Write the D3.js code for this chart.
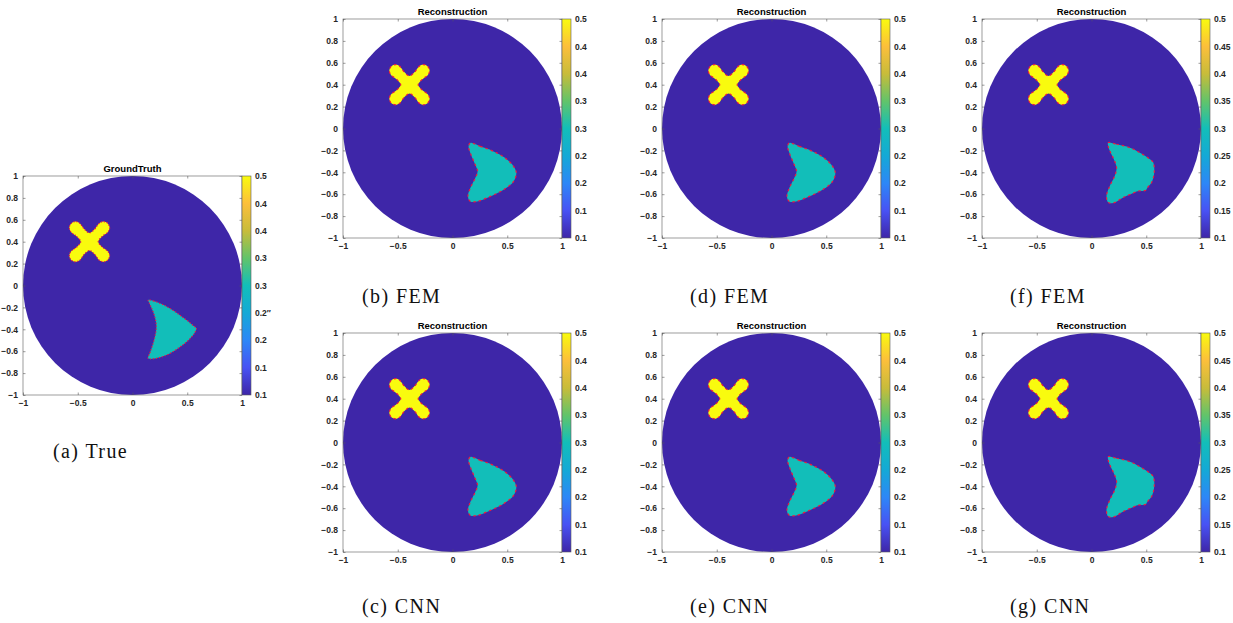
<!DOCTYPE html>
<html>
<head>
<meta charset="utf-8">
<script src="https://cdn.jsdelivr.net/npm/d3@7"></script>
<style>
  body { margin: 0; background: #fff; }
  .tick-label { font-family: "Liberation Sans", Arial, sans-serif; font-size: 8.5px; font-weight: bold; fill: #262626; }
  .ax-title { font-family: "Liberation Sans", Arial, sans-serif; font-size: 9.5px; font-weight: bold; fill: #000; }
  .caption { font-family: "Liberation Serif", "DejaVu Serif", serif; font-size: 20px; letter-spacing: 1.4px; fill: #111; }
</style>
</head>
<body>
<div id="viz"></div>
<script>
// axis ticks
var xTicks = [-1, -0.5, 0, 0.5, 1];
var yTicks = [-1, -0.8, -0.6, -0.4, -0.2, 0, 0.2, 0.4, 0.6, 0.8, 1];

// colorbar ticks (value range 0.1 .. 0.5)
var cbDomain = [0.1, 0.5];
var cbTicks = [0.1, 0.15, 0.2, 0.25, 0.3, 0.35, 0.4, 0.45, 0.5];
var cbLabelsGT = ["0.1", "0.1", "0.2", "0.2\u2033", "0.3", "0.3", "0.4", "0.4", "0.5"];
var cbLabelsShort = ["0.1", "0.1", "0.2", "0.2", "0.3", "0.3", "0.4", "0.4", "0.5"];
var cbLabelsFine = ["0.1", "0.15", "0.2", "0.25", "0.3", "0.35", "0.4", "0.45", "0.5"];

// parula colormap stops
var parula = ["#3e26a8", "#4852f4", "#2d87f7", "#14a9d6", "#12beb9", "#62c46a", "#c8bc3a", "#fcbf3b", "#f9fb0e"];

// inclusion values
var crossValue = 0.5;
var crescentValue = 0.3;
var backgroundValue = 0.1;

// X-shaped inclusion boundary (x, y)
var crossShape = [
  [-0.393, 0.480],
  [-0.343, 0.518], [-0.306, 0.567], [-0.266, 0.584], [-0.226, 0.567], [-0.209, 0.527], [-0.226, 0.487], [-0.275, 0.450],
  [-0.313, 0.400],
  [-0.275, 0.350], [-0.226, 0.313], [-0.209, 0.273], [-0.226, 0.233], [-0.266, 0.216], [-0.306, 0.233], [-0.343, 0.282],
  [-0.393, 0.320],
  [-0.443, 0.282], [-0.480, 0.233], [-0.520, 0.216], [-0.560, 0.233], [-0.577, 0.273], [-0.560, 0.313], [-0.511, 0.350],
  [-0.473, 0.400],
  [-0.511, 0.450], [-0.560, 0.487], [-0.577, 0.527], [-0.560, 0.567], [-0.520, 0.584], [-0.480, 0.567], [-0.443, 0.518]
];

// crescent inclusion, ground truth
var crescentTrue = [
  [0.142, -0.132], [0.193, -0.142], [0.285, -0.178], [0.376, -0.230], [0.452, -0.285],
  [0.513, -0.330], [0.559, -0.370], [0.583, -0.391], [0.565, -0.437], [0.513, -0.498],
  [0.437, -0.559], [0.345, -0.619], [0.254, -0.656], [0.163, -0.671], [0.142, -0.665],
  [0.163, -0.604], [0.193, -0.513], [0.216, -0.406], [0.216, -0.345], [0.199, -0.269],
  [0.169, -0.193], [0.148, -0.148]
];

// crescent inclusion, reconstructions (b)-(e)
var crescentRec = [
  [0.163, -0.132], [0.254, -0.163], [0.375, -0.209], [0.482, -0.270], [0.558, -0.346],
  [0.583, -0.406], [0.558, -0.483], [0.467, -0.559], [0.345, -0.620], [0.224, -0.666],
  [0.163, -0.666], [0.141, -0.620], [0.163, -0.543], [0.208, -0.452], [0.229, -0.392],
  [0.208, -0.331], [0.169, -0.239], [0.147, -0.163]
];

// crescent inclusion, reconstructions (f)-(g)
var crescentRec2 = [
  [0.152, -0.129], [0.229, -0.144], [0.351, -0.175], [0.442, -0.221], [0.534, -0.281],
  [0.564, -0.311], [0.573, -0.402], [0.549, -0.493], [0.515, -0.535], [0.495, -0.565],
  [0.470, -0.570], [0.420, -0.572], [0.381, -0.590], [0.290, -0.630], [0.198, -0.681],
  [0.152, -0.675], [0.137, -0.615], [0.168, -0.523], [0.213, -0.432], [0.229, -0.357],
  [0.204, -0.281], [0.168, -0.205], [0.152, -0.159]
];

var panels = [
  {title: "GroundTruth", left: 23, top: 176, crescent: crescentTrue, labels: cbLabelsGT, caption: "(a) True", capX: 53, capY: 458, dash: "1.2,1.8"},
  {title: "Reconstruction", left: 343, top: 19, crescent: crescentRec, labels: cbLabelsShort, caption: "(b) FEM", capX: 362, capY: 303, dash: "2.5,3"},
  {title: "Reconstruction", left: 662, top: 19, crescent: crescentRec, labels: cbLabelsShort, caption: "(d) FEM", capX: 690, capY: 303, dash: "2.5,3"},
  {title: "Reconstruction", left: 982, top: 19, crescent: crescentRec2, labels: cbLabelsFine, caption: "(f) FEM", capX: 1010, capY: 303, dash: "2.5,3"},
  {title: "Reconstruction", left: 343, top: 333, crescent: crescentRec, labels: cbLabelsShort, caption: "(c) CNN", capX: 362, capY: 613, dash: "2.5,3"},
  {title: "Reconstruction", left: 662, top: 333, crescent: crescentRec, labels: cbLabelsShort, caption: "(e) CNN", capX: 690, capY: 613, dash: "2.5,3"},
  {title: "Reconstruction", left: 982, top: 333, crescent: crescentRec2, labels: cbLabelsFine, caption: "(g) CNN", capX: 1010, capY: 613, dash: "2.5,3"}
];

var width = 1233, height = 623;
var size = 219, cbWidth = 9, tickLen = 2.5;

var svg = d3.select("#viz").append("svg")
    .attr("width", width)
    .attr("height", height);

var grad = svg.append("defs").append("linearGradient")
    .attr("id", "parula")
    .attr("x1", 0).attr("y1", 1).attr("x2", 0).attr("y2", 0);
grad.selectAll("stop")
  .data(parula)
  .enter()
  .append("stop")
  .attr("offset", function(d, i) { return i / (parula.length - 1); })
  .attr("stop-color", function(d) { return d; });

var colorScale = d3.scaleLinear()
    .domain(parula.map(function(d, i) { return cbDomain[0] + (cbDomain[1] - cbDomain[0]) * i / (parula.length - 1); }))
    .range(parula);

panels.forEach(function(p) {
  var g = svg.append("g").attr("transform", "translate(" + p.left + "," + p.top + ")");

  var x = d3.scaleLinear().domain([-1, 1]).range([0, size]);
  var y = d3.scaleLinear().domain([-1, 1]).range([size, 0]);

  var line = d3.line()
    .x(function(d) { return x(d[0]); })
    .y(function(d) { return y(d[1]); })
    .curve(d3.curveCatmullRomClosed.alpha(0.5));

  // disk background
  g.append("circle")
    .attr("cx", x(0))
    .attr("cy", y(0))
    .attr("r", x(1) - x(0))
    .style("fill", colorScale(backgroundValue));

  // inclusions
  [[crossShape, crossValue], [p.crescent, crescentValue]].forEach(function(s) {
    g.append("path")
      .attr("d", line(s[0]))
      .style("fill", colorScale(s[1]));
    g.append("path")
      .attr("d", line(s[0]))
      .style("fill", "none")
      .style("stroke", "#ee1c3c")
      .style("stroke-width", 1.2)
      .style("stroke-dasharray", p.dash);
  });

  // axes box
  g.append("rect")
    .attr("width", size).attr("height", size)
    .style("fill", "none")
    .style("stroke", "#5a5a5a")
    .style("stroke-width", 0.6);

  var xAxisB = d3.axisBottom(x).tickValues(xTicks).tickSizeInner(-tickLen).tickSizeOuter(0).tickFormat(d3.format("~g")).tickPadding(5);
  var xAxisT = d3.axisTop(x).tickValues(xTicks).tickSizeInner(-tickLen).tickSizeOuter(0).tickFormat("");
  var yAxisL = d3.axisLeft(y).tickValues(yTicks).tickSizeInner(-tickLen).tickSizeOuter(0).tickFormat(d3.format("~g")).tickPadding(5);
  var yAxisR = d3.axisRight(y).tickValues(yTicks).tickSizeInner(-tickLen).tickSizeOuter(0).tickFormat("");

  [[xAxisB, "translate(0," + size + ")"], [xAxisT, "translate(0,0)"], [yAxisL, "translate(0,0)"], [yAxisR, "translate(" + size + ",0)"]].forEach(function(a) {
    var ax = g.append("g").attr("transform", a[1]).call(a[0]);
    ax.select(".domain").remove();
    ax.selectAll("line").style("stroke", "#5a5a5a").style("stroke-width", 0.6);
    ax.selectAll("text").attr("class", "tick-label").attr("fill", null);
  });

  // title
  g.append("text")
    .attr("class", "ax-title")
    .attr("x", size / 2)
    .attr("y", -4)
    .attr("text-anchor", "middle")
    .text(p.title);

  // colorbar
  var cb = g.append("g").attr("transform", "translate(" + size + ",0)");
  var cy = d3.scaleLinear().domain(cbDomain).range([size, 0]);
  cb.append("rect")
    .attr("width", cbWidth).attr("height", size)
    .style("fill", "url(#parula)")
    .style("stroke", "#5a5a5a")
    .style("stroke-width", 0.6);
  var cbAxis = d3.axisRight(cy).tickValues(cbTicks).tickSize(0).tickPadding(4)
    .tickFormat(function(d, i) { return p.labels[i]; });
  var cba = cb.append("g").attr("transform", "translate(" + cbWidth + ",0)").call(cbAxis);
  cba.select(".domain").remove();
  cba.selectAll("text").attr("class", "tick-label").attr("fill", null);

  // caption
  svg.append("text")
    .attr("class", "caption")
    .attr("x", p.capX)
    .attr("y", p.capY)
    .text(p.caption);
});
</script>
</body>
</html>
